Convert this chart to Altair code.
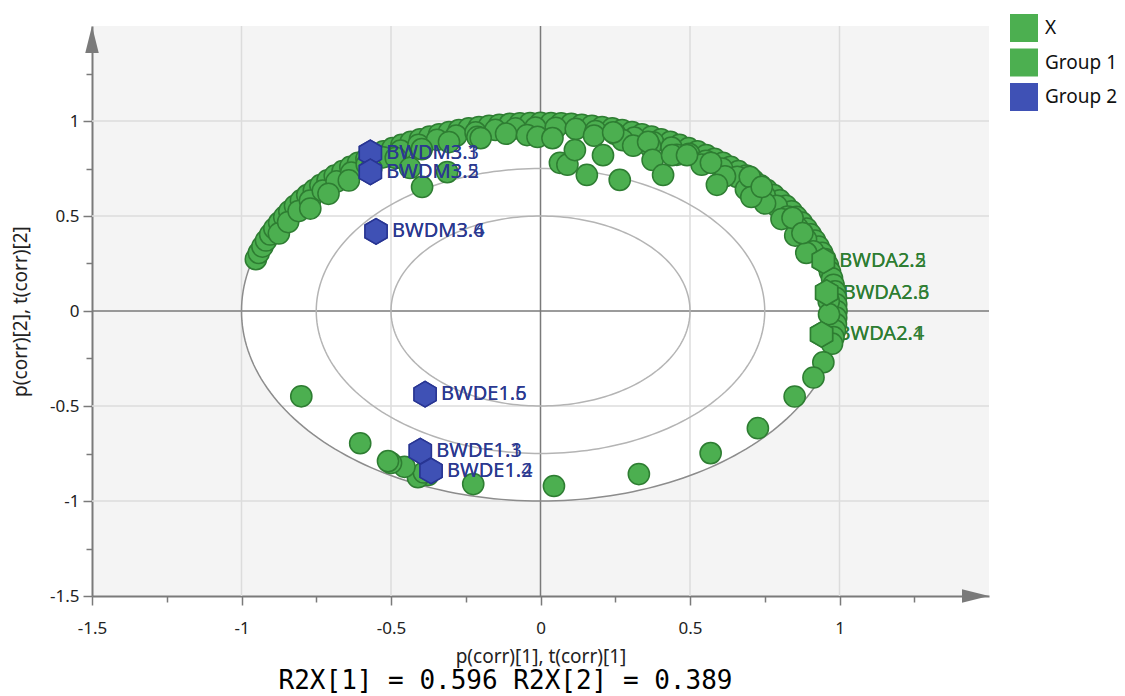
import altair as alt
import pandas as pd
import numpy as np

# ---------------- data ----------------
# X variables: p(corr)[1], p(corr)[2]
var_x = [
    -0.952, -0.942, -0.930, -0.918, -0.904, -0.890, -0.874, -0.857, -0.840, -0.821,
    -0.801, -0.780, -0.758, -0.736, -0.712, -0.688, -0.662, -0.636, -0.610, -0.582,
    -0.554, -0.525, -0.495, -0.465, -0.434, -0.403, -0.371, -0.339, -0.306, -0.273,
    -0.240, -0.206, -0.172, -0.138, -0.103, -0.069, -0.035, 0.000, 0.035, 0.069,
    0.103, 0.138, 0.172, 0.206, 0.240, 0.273, 0.306, 0.339, 0.371, 0.403,
    0.434, 0.465, 0.495, 0.525, 0.554, 0.582, 0.610, 0.636, 0.662, 0.688,
    0.712, 0.736, 0.758, 0.780, 0.801, 0.821, 0.840, 0.857, 0.874, 0.890,
    0.904, 0.918, 0.930, 0.942, 0.952, 0.961, 0.968, 0.975, 0.980, 0.985,
    0.988, 0.989, 0.990, 0.989, 0.988, 0.985, 0.980, 0.975,
    -0.875, -0.844, -0.809, -0.771, -0.728, -0.682, -0.633, -0.581, -0.526, -0.468,
    -0.408, -0.346, -0.282, -0.217, -0.151, -0.084, -0.017, 0.051, 0.118, 0.184,
    0.250, 0.314, 0.377, 0.438, 0.497, 0.553, 0.607, 0.658, 0.706, 0.750,
    0.790, 0.827, 0.860, 0.888, 0.912, 0.964, 0.965,
    -0.770, -0.709, -0.641, -0.566, -0.484, -0.397, -0.306, -0.211, -0.115,
    0.179, 0.275, 0.367, 0.456, 0.539, 0.617, 0.687, 0.751, 0.806, 0.852,
    0.889,
    -0.396, -0.312, -0.436, -0.200, -0.045, -0.010, 0.040, 0.065, 0.090, 0.115,
    0.155, 0.209, 0.243, 0.265, 0.310, 0.360, 0.375, 0.410, 0.440, 0.490,
    0.570, 0.590, 0.700, 0.705, 0.740, 0.843, 0.876,
    0.946, 0.913, 0.850, 0.727, 0.569, 0.329, 0.045, -0.225, -0.376, -0.410,
    -0.390, -0.455, -0.500, -0.510, -0.603, -0.800,
]
var_y = [
    0.273, 0.306, 0.339, 0.371, 0.403, 0.434, 0.465, 0.495, 0.525, 0.554,
    0.582, 0.610, 0.636, 0.662, 0.688, 0.712, 0.736, 0.758, 0.780, 0.801,
    0.821, 0.840, 0.857, 0.874, 0.890, 0.904, 0.918, 0.930, 0.942, 0.952,
    0.961, 0.968, 0.975, 0.980, 0.985, 0.988, 0.989, 0.990, 0.989, 0.988,
    0.985, 0.980, 0.975, 0.968, 0.961, 0.952, 0.942, 0.930, 0.918, 0.904,
    0.890, 0.874, 0.857, 0.840, 0.821, 0.801, 0.780, 0.758, 0.736, 0.712,
    0.688, 0.662, 0.636, 0.610, 0.582, 0.554, 0.525, 0.495, 0.465, 0.434,
    0.403, 0.371, 0.339, 0.306, 0.273, 0.240, 0.206, 0.172, 0.138, 0.103,
    0.069, 0.035, 0.000, -0.035, -0.069, -0.103, -0.138, -0.172,
    0.408, 0.468, 0.526, 0.581, 0.633, 0.682, 0.728, 0.771, 0.809, 0.844,
    0.875, 0.901, 0.923, 0.940, 0.953, 0.961, 0.965, 0.964, 0.958, 0.947,
    0.932, 0.912, 0.888, 0.860, 0.827, 0.790, 0.750, 0.706, 0.658, 0.607,
    0.553, 0.497, 0.438, 0.377, 0.314, 0.051, -0.017,
    0.539, 0.617, 0.687, 0.751, 0.806, 0.852, 0.889, 0.916, 0.933,
    0.923, 0.899, 0.865, 0.822, 0.770, 0.709, 0.641, 0.566, 0.484, 0.397,
    0.306,
    0.653, 0.731, 0.753, 0.910, 0.926, 0.916, 0.910, 0.780, 0.770, 0.847,
    0.716, 0.820, 0.940, 0.690, 0.870, 0.890, 0.795, 0.716, 0.820, 0.820,
    0.780, 0.664, 0.706, 0.600, 0.653, 0.490, 0.410,
    -0.270, -0.350, -0.450, -0.617, -0.748, -0.858, -0.921, -0.911, -0.863, -0.875,
    -0.850, -0.820, -0.800, -0.790, -0.696, -0.449,
]

# Observations (scores, t(corr))
obs_name = ["BWDM3.1", "BWDM3.3", "BWDM3.2", "BWDM3.5", "BWDM3.4", "BWDM3.6",
            "BWDE1.5", "BWDE1.6", "BWDE1.1", "BWDE1.3", "BWDE1.2", "BWDE1.4",
            "BWDA2.2", "BWDA2.5", "BWDA2.3", "BWDA2.6", "BWDA2.1", "BWDA2.4"]
obs_group = ["Group 2"] * 12 + ["Group 1"] * 6
obs_x = [-0.569, -0.569, -0.569, -0.569, -0.550, -0.550,
         -0.386, -0.386, -0.402, -0.402, -0.366, -0.366,
         0.946, 0.946, 0.957, 0.957, 0.940, 0.940]
obs_y = [0.832, 0.832, 0.732, 0.732, 0.419, 0.419,
         -0.438, -0.438, -0.737, -0.737, -0.842, -0.842,
         0.265, 0.265, 0.097, 0.097, -0.123, -0.123]

legend_order = ["X", "Group 1", "Group 2"]
legend_colors = ["#4CAF50", "#4CAF50", "#3F51B5"]
stroke_colors = ["#2E7D32", "#2E7D32", "#283593"]
label_colors = {"Group 1": "#2E7D32", "Group 2": "#2B3990"}
grid_values = [-1.0, -0.5, 0.5, 1.0]
tick_values = [-1.5, -1.25, -1.0, -0.75, -0.5, -0.25, 0.0, 0.25, 0.5, 0.75, 1.0, 1.25]
circle_radii = [1.0, 0.75, 0.5]

# ---------------- frames ----------------
vars_df = pd.DataFrame({"x": var_x, "y": var_y, "grp": "X"})
obs_df = pd.DataFrame({"x": obs_x, "y": obs_y, "grp": obs_group, "name": obs_name})
g1_df = obs_df[obs_df.grp == "Group 1"]
g2_df = obs_df[obs_df.grp == "Group 2"]

t = np.linspace(0, 2 * np.pi, 241)
circ_df = pd.concat([pd.DataFrame({"x": r * np.cos(t), "y": r * np.sin(t), "r": r,
                                   "i": np.arange(len(t))}) for r in circle_radii])
th = np.linspace(0, np.pi, 181)
fill_df = pd.DataFrame({"x": np.cos(th), "y": np.sin(th), "y2": -np.sin(th)})
gx_df = pd.DataFrame({"x": grid_values})
gy_df = pd.DataFrame({"y": grid_values})

W, H = 897, 570
FONT = "Noto Sans"

xs = alt.Scale(domain=[-1.5, 1.5], nice=False, zero=False)
ys = alt.Scale(domain=[-1.5, 1.5], nice=False, zero=False)

lab_expr = "datum.value % 0.5 === 0 ? '' + datum.value : ''"
tick_cond = {"condition": {"test": "datum.value % 0.5 === 0", "value": 9}, "value": 6}

xaxis = alt.Axis(values=tick_values, labelExpr=lab_expr, tickSize=tick_cond,
                 grid=False, domainColor="#7a7a7a", domainWidth=2, tickColor="#7a7a7a",
                 tickWidth=1.5, labelFont=FONT, labelFontSize=17, labelColor="#222",
                 labelPadding=15, labelFlush=False, labelOverlap=False,
                 title="p(corr)[1], t(corr)[1]", titleFont=FONT, titleFontSize=19,
                 titleFontWeight="normal", titleColor="#222", titlePadding=11)
yaxis = alt.Axis(values=tick_values, labelExpr=lab_expr, tickSize=tick_cond,
                 grid=False, domainColor="#7a7a7a", domainWidth=2, tickColor="#7a7a7a",
                 tickWidth=1.5, labelFont=FONT, labelFontSize=17, labelColor="#222",
                 labelPadding=4, labelFlush=False, labelOverlap=False,
                 title="p(corr)[2], t(corr)[2]", titleFont=FONT, titleFontSize=19,
                 titleFontWeight="normal", titleColor="#222", titlePadding=19)

X = alt.X("x:Q", scale=xs, axis=xaxis)
Y = alt.Y("y:Q", scale=ys, axis=yaxis)

cscale = alt.Scale(domain=legend_order, range=legend_colors)
sscale = alt.Scale(domain=legend_order, range=stroke_colors)

white = alt.Chart(fill_df).mark_area(color="white", opacity=1).encode(
    x=X, y=Y, y2="y2:Q")

gridx = alt.Chart(gx_df).mark_rule(color="#dcdcdc", strokeWidth=1.5).encode(x=X)
gridy = alt.Chart(gy_df).mark_rule(color="#dcdcdc", strokeWidth=1.5).encode(y=Y)

zero_x = alt.Chart(pd.DataFrame({"x": [0.0]})).mark_rule(color="#7a7a7a", strokeWidth=1.5).encode(x=X)
zero_y = alt.Chart(pd.DataFrame({"y": [0.0]})).mark_rule(color="#7a7a7a", strokeWidth=1.5).encode(y=Y)

ell_outer = alt.Chart(circ_df[circ_df.r == 1.0]).mark_line(
    color="#8c8c8c", strokeWidth=1.5).encode(x=X, y=Y, order="i:Q")
ell_inner = alt.Chart(circ_df[circ_df.r < 1.0]).mark_line(
    color="#b4b4b4", strokeWidth=1.5).encode(x=X, y=Y, order="i:Q", detail="r:N")

arrow_up = alt.Chart(pd.DataFrame({"x": [-1.5], "y": [1.5]})).mark_point(
    shape="M0,-1L0.5,1L-0.5,1Z", size=729, filled=True, color="#7a7a7a",
    opacity=1, yOffset=13.5).encode(x=X, y=Y)
arrow_right = alt.Chart(pd.DataFrame({"x": [1.5], "y": [-1.5]})).mark_point(
    shape="M1,0L-1,-0.5L-1,0.5Z", size=729, filled=True, color="#7a7a7a",
    opacity=1, xOffset=-13.5).encode(x=X, y=Y)

legend = alt.Legend(title=None, orient="none", legendX=918, legendY=-12,
                    symbolType="square", symbolSize=784, symbolStrokeWidth=0,
                    symbolOpacity=1, labelFont=FONT, labelFontSize=19,
                    labelColor="#111", labelOffset=7, rowPadding=6.5, padding=0)

HEX = "M0,-1L0.866,-0.5L0.866,0.5L0,1L-0.866,0.5L-0.866,-0.5Z"


def obs_labels(df, col):
    return alt.Chart(df).mark_text(
        align="left", baseline="middle", dx=16, font=FONT, fontSize=20,
        color=col).encode(x=X, y=Y, text="name:N")


def obs_hexes(df):
    return alt.Chart(df).mark_point(
        shape=HEX, size=650, filled=True, opacity=1, strokeWidth=1.5).encode(
        x=X, y=Y, color=alt.Color("grp:N", scale=cscale, legend=legend),
        stroke=alt.Stroke("grp:N", scale=sscale, legend=None))


circles = alt.Chart(vars_df).mark_point(
    shape="circle", size=450, filled=True, opacity=1, strokeWidth=1.5).encode(
    x=X, y=Y, color=alt.Color("grp:N", scale=cscale, legend=legend),
    stroke=alt.Stroke("grp:N", scale=sscale, legend=None))

chart = alt.layer(
    white, gridx, gridy, zero_x, zero_y, ell_outer, ell_inner,
    arrow_up, arrow_right,
    obs_labels(g1_df, label_colors["Group 1"]),
    circles,
    obs_hexes(g1_df),
    obs_hexes(g2_df), obs_labels(g2_df, label_colors["Group 2"]),
).properties(
    width=W, height=H,
    padding={"left": 84, "top": 18, "right": 128, "bottom": 100},
    autosize=alt.AutoSizeParams(type="none"),
    title=alt.TitleParams("R2X[1] = 0.596 R2X[2] = 0.389", orient="bottom",
                          anchor="middle", font="DejaVu Sans Mono", fontSize=26,
                          fontWeight="normal", color="#000", dx=-35, offset=2),
    background="white",
).configure_view(fill="#f4f4f4", stroke=None)

chart.save("out.html", embed_options={"renderer": "svg", "actions": False})
